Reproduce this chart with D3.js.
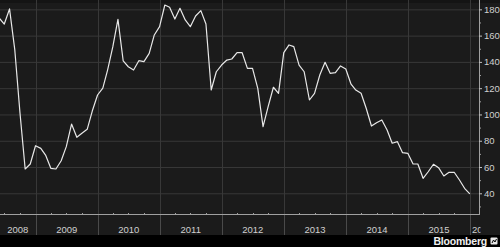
<!DOCTYPE html>
<html>
<head>
<meta charset="utf-8">
<script src="https://cdn.jsdelivr.net/npm/d3@7"></script>
<style>
  html, body { margin: 0; padding: 0; background: #000; }
  svg { display: block; }
</style>
</head>
<body>
<script>
// monthly values, month-end, starting May 2008
var startMonth = new Date(2008, 4, 1);
var values = [
    173.4, 168.8, 180.3, 149.1, 101.9, 58.5, 62.3, 76.2,
    74.2, 69.1, 59.0, 58.5, 64.8, 75.5, 92.7, 82.6, 85.7, 88.7, 102.6, 114.8,
    120.1, 133.8, 151.6, 172.4, 140.7, 136.3, 133.8, 140.9, 140.2, 146.5, 160.5, 166.8,
    183.3, 181.6, 172.6, 180.8, 171.9, 166.8, 174.9, 179.0, 168.8, 118.6, 132.5, 137.6,
    141.4, 142.2, 147.0, 147.0, 135.1, 135.1, 119.9, 90.7, 105.9, 120.7, 116.1, 147.0,
    152.9, 151.6, 137.6, 132.5, 111.0, 116.1, 130.0, 139.7, 131.3, 131.8, 136.9, 134.6,
    123.0, 118.6, 116.1, 104.7, 91.2, 93.7, 95.8, 88.2, 78.1, 79.3, 70.9, 70.4,
    62.3, 62.3, 51.4, 56.4, 62.1, 59.5, 53.2, 56.0, 56.0, 50.1, 43.8, 39.5
];
var years = [2008, 2009, 2010, 2011, 2012, 2013, 2014, 2015, 2016];
var yTicks = [40, 60, 80, 100, 120, 140, 160, 180];

var width = 500, height = 247;
var plotRight = 479, plotBottom = 214, bandTop = 235;

var svg = d3.select('body')
        .append('svg')
        .attr('width', width)
        .attr('height', height);

// month-end dates for each value
var dates = values.map(function(v, i) {
    return d3.timeDay.offset(d3.timeMonth.offset(startMonth, i + 1), -0.0001);
});
var series = values.map(function(v, i) { return {date: dates[i], value: v}; });

var x = d3.scaleTime()
        .domain([new Date(2009, 0, 1), new Date(2016, 0, 1)])
        .range([35.7, 470]);
var y = d3.scaleLinear()
        .domain([24.25, 187.1])
        .range([plotBottom, 0]);

// Background
svg.append('rect')
        .attr('width', width)
        .attr('height', bandTop)
        .attr('fill', '#1b1b1b');
svg.append('rect')
        .attr('width', width)
        .attr('height', 3)
        .attr('fill', '#141414');
svg.append('rect')
        .attr('y', bandTop)
        .attr('width', width)
        .attr('height', height - bandTop)
        .attr('fill', '#000');

var defs = svg.append('defs');
defs.append('clipPath')
        .attr('id', 'plotClip')
        .append('rect')
        .attr('width', plotRight)
        .attr('height', bandTop);
defs.append('clipPath')
        .attr('id', 'labelClip')
        .append('rect')
        .attr('width', plotRight + 1.5)
        .attr('height', bandTop);

// Horizontal grid
svg.append('g')
        .selectAll('line')
        .data(yTicks)
        .enter()
        .append('line')
        .attr('x1', 0)
        .attr('x2', plotRight)
        .attr('y1', function(d) { return y(d) + 0.5; })
        .attr('y2', function(d) { return y(d) + 0.5; })
        .attr('stroke', '#383838')
        .attr('stroke-width', 1);

// Vertical year grid (runs through label area)
var yearStarts = years.map(function(yr) { return new Date(yr, 0, 1); })
        .filter(function(d) { return x(d) > 0 && x(d) < plotRight; });
svg.append('g')
        .selectAll('line')
        .data(yearStarts)
        .enter()
        .append('line')
        .attr('x1', function(d) { return Math.round(x(d)) + 0.5; })
        .attr('x2', function(d) { return Math.round(x(d)) + 0.5; })
        .attr('y1', 0)
        .attr('y2', plotBottom)
        .attr('stroke', '#383838');
svg.append('g')
        .selectAll('line')
        .data(yearStarts)
        .enter()
        .append('line')
        .attr('x1', function(d) { return Math.round(x(d)) + 0.5; })
        .attr('x2', function(d) { return Math.round(x(d)) + 0.5; })
        .attr('y1', plotBottom)
        .attr('y2', bandTop)
        .attr('stroke', '#4a4a4a');

// Data line
var line = d3.line()
        .x(function(d) { return x(d.date); })
        .y(function(d) { return y(d.value); });
svg.append('path')
        .datum(series)
        .attr('clip-path', 'url(#plotClip)')
        .attr('d', line)
        .attr('fill', 'none')
        .attr('stroke', '#e8e8e8')
        .attr('stroke-width', 1.2)
        .attr('stroke-linejoin', 'round');

// Bottom axis line + quarter ticks
svg.append('line')
        .attr('x1', 0)
        .attr('x2', plotRight + 0.5)
        .attr('y1', plotBottom + 0.5)
        .attr('y2', plotBottom + 0.5)
        .attr('stroke', '#a0a0a0');
var quarters = d3.timeMonth.every(3).range(new Date(2008, 0, 1), new Date(2016, 3, 1))
        .filter(function(d) { return d.getMonth() !== 0 && x(d) > 0 && x(d) < plotRight; });
svg.append('g')
        .selectAll('line')
        .data(quarters)
        .enter()
        .append('line')
        .attr('x1', function(d) { return Math.round(x(d)) + 0.5; })
        .attr('x2', function(d) { return Math.round(x(d)) + 0.5; })
        .attr('y1', plotBottom - 1)
        .attr('y2', plotBottom)
        .attr('stroke', '#a0a0a0');

// Year labels
function visibleSpan(yr) {
    var a = Math.max(0, x(new Date(yr, 0, 1)));
    var b = Math.min(plotRight, x(new Date(yr + 1, 0, 1)));
    return [a, b];
}
svg.append('g')
        .attr('clip-path', 'url(#labelClip)')
        .selectAll('text')
        .data(years)
        .enter()
        .append('text')
        .attr('x', function(yr) {
            var s = visibleSpan(yr);
            return (s[1] - s[0]) < 24 ? s[0] + 2 : (s[0] + s[1]) / 2;
        })
        .attr('text-anchor', function(yr) {
            var s = visibleSpan(yr);
            return (s[1] - s[0]) < 24 ? 'start' : 'middle';
        })
        .attr('y', 233)
        .attr('fill', '#d0d0d0')
        .style('font-family', 'Liberation Sans, Arial, sans-serif')
        .style('font-size', '9.5px')
        .text(function(yr) { return yr; });

// Right axis
svg.append('line')
        .attr('x1', plotRight + 0.5)
        .attr('x2', plotRight + 0.5)
        .attr('y1', 0)
        .attr('y2', plotBottom + 1)
        .attr('stroke', '#a0a0a0');
var minorTicks = d3.range(30, 190, 20);
svg.append('g')
        .selectAll('line')
        .data(minorTicks)
        .enter()
        .append('line')
        .attr('x1', plotRight)
        .attr('x2', plotRight + 2)
        .attr('y1', function(d) { return y(d) + 0.5; })
        .attr('y2', function(d) { return y(d) + 0.5; })
        .attr('stroke', '#a0a0a0');
var yAxis = svg.append('g');
yAxis.selectAll('line')
        .data(yTicks)
        .enter()
        .append('line')
        .attr('x1', plotRight)
        .attr('x2', plotRight + 3)
        .attr('y1', function(d) { return y(d) + 0.5; })
        .attr('y2', function(d) { return y(d) + 0.5; })
        .attr('stroke', '#c0c0c0');
yAxis.selectAll('text')
        .data(yTicks)
        .enter()
        .append('text')
        .attr('x', 484)
        .attr('y', function(d) { return y(d); })
        .attr('dominant-baseline', 'central')
        .attr('fill', '#d0d0d0')
        .style('font-family', 'Liberation Sans, Arial, sans-serif')
        .style('font-size', '9.5px')
        .text(function(d) { return d; });

// Bloomberg mark
svg.append('text')
        .attr('x', 487)
        .attr('y', 244.5)
        .attr('text-anchor', 'end')
        .attr('fill', '#f0f0f0')
        .style('font-family', 'Liberation Sans, Arial, sans-serif')
        .style('font-size', '10.5px')
        .style('font-weight', 'bold')
        .style('letter-spacing', '-0.2px')
        .text('Bloomberg');
svg.append('rect')
        .attr('x', 490.5)
        .attr('y', 237.5)
        .attr('width', 7)
        .attr('height', 7)
        .attr('rx', 1)
        .attr('fill', '#e8e8e8');
svg.append('path')
        .attr('d', 'M492,243 L493.5,240 L495,242 L496.5,239')
        .attr('fill', 'none')
        .attr('stroke', '#000')
        .attr('stroke-width', 1);
</script>
</body>
</html>
